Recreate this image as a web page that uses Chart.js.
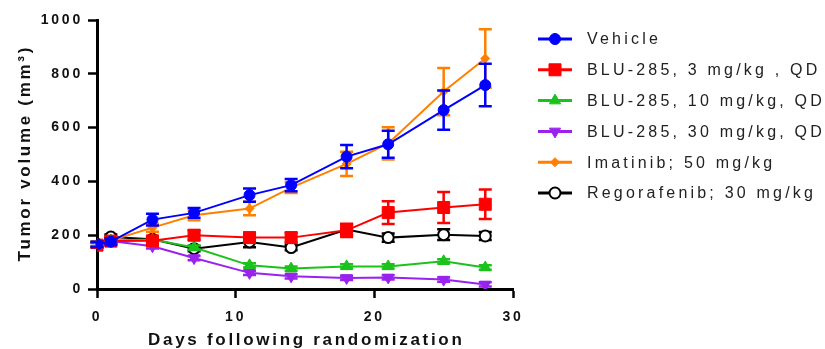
<!DOCTYPE html>
<html>
<head>
<meta charset="utf-8">
<script src="https://cdn.jsdelivr.net/npm/chart.js@4/dist/chart.umd.min.js"></script>
<style>
  html, body { margin: 0; padding: 0; background: #fff; }
  #wrap { width: 825px; height: 349px; }
</style>
</head>
<body>
<div id="wrap"><canvas id="tumorChart" width="825" height="349"></canvas></div>
<script>
// days after randomization
const days = [0, 1, 4, 7, 11, 14, 18, 21, 25, 28];

const seriesNames = [
  'Vehicle',
  'BLU-285, 3 mg/kg , QD',
  'BLU-285, 10 mg/kg, QD',
  'BLU-285, 30 mg/kg, QD',
  'Imatinib; 50 mg/kg',
  'Regorafenib; 30 mg/kg'
];

// mean tumor volume (mm3)
const vehicle     = [166, 176, 258, 283, 349, 386, 492, 538, 665, 758];
const blu3        = [163, 178, 179, 200, 191, 191, 218, 284, 303, 315];
const blu10       = [165, 180, 184, 154, 88, 76, 84, 84, 103, 80];
const blu30       = [165, 178, 159, 115, 60, 47, 41, 43, 35, 17];
const imatinib    = [166, 180, 228, 274, 299, 377, 465, 541, 734, 857];
const regorafenib = [166, 193, 185, 150, 175, 154, 221, 191, 202, 197];

// SEM
const vehicleErr     = [10, 12, 22, 18, 25, 23, 43, 50, 73, 79];
const blu3Err        = [10, 10, 15, 18, 18, 18, 25, 42, 58, 55];
const blu10Err       = [6, 6, 8, 8, 8, 8, 8, 8, 8, 8];
const blu30Err       = [6, 6, 8, 8, 8, 8, 8, 8, 8, 8];
const imatinibErr    = [10, 12, 15, 18, 25, 20, 45, 60, 88, 109];
const regorafenibErr = [10, 10, 10, 10, 20, 10, 20, 15, 20, 15];

const xTicks = [0, 10, 20, 30];
const yTicks = [0, 200, 400, 600, 800, 1000];

const FONT = '"Liberation Sans", Arial, sans-serif';

function toPoints(vals) {
  return days.map((d, i) => ({ x: d, y: vals[i] }));
}

function makeSet(idx, vals, errs, color, style) {
  return Object.assign({
    label: seriesNames[idx],
    data: toPoints(vals),
    errors: errs,
    borderColor: color,
    backgroundColor: color,
    pointBackgroundColor: color,
    pointBorderColor: color,
    pointBorderWidth: 1,
    borderWidth: 2,
    tension: 0
  }, style);
}

const datasets = [
  makeSet(0, vehicle, vehicleErr, '#0000ff', { pointStyle: 'circle', pointRadius: 5.5 }),
  makeSet(1, blu3, blu3Err, '#ff0000', { pointStyle: 'rect', pointRadius: 8.5 }),
  makeSet(2, blu10, blu10Err, '#1cc21c', { pointStyle: 'triangle', pointRadius: 6.5 }),
  makeSet(3, blu30, blu30Err, '#9a22ee', { pointStyle: 'triangle', pointRotation: 180, pointRadius: 6.5 }),
  makeSet(4, imatinib, imatinibErr, '#ff8000', { pointStyle: 'rectRot', pointRadius: 4.5 }),
  makeSet(5, regorafenib, regorafenibErr, '#000000', {
    pointStyle: 'circle', pointRadius: 5.5, pointBackgroundColor: '#ffffff', pointBorderWidth: 2
  })
];

// vertical SEM bars drawn under each dataset's own line
const errorBars = {
  id: 'errorBars',
  beforeDatasetDraw(chart, args) {
    const ds = chart.data.datasets[args.index];
    if (!ds.errors) return;
    const ctx = chart.ctx;
    const yScale = chart.scales.y;
    ctx.save();
    ctx.strokeStyle = ds.borderColor;
    ctx.lineWidth = 2.5;
    args.meta.data.forEach((pt, i) => {
      const v = ds.data[i].y, e = ds.errors[i];
      const top = yScale.getPixelForValue(v + e);
      const bot = yScale.getPixelForValue(Math.max(0, v - e));
      ctx.beginPath();
      ctx.moveTo(pt.x, top); ctx.lineTo(pt.x, bot);
      ctx.moveTo(pt.x - 6.5, top); ctx.lineTo(pt.x + 6.5, top);
      ctx.moveTo(pt.x - 6.5, bot); ctx.lineTo(pt.x + 6.5, bot);
      ctx.stroke();
    });
    ctx.restore();
  }
};

// spaced lettering like the original figure
const spacing = {
  id: 'spacing',
  beforeLayout(chart) { chart.ctx.letterSpacing = '2.8px'; },
  beforeDraw(chart) { chart.ctx.letterSpacing = '2.8px'; }
};

// axis titles + line/marker legend on the right
const extras = {
  id: 'extras',
  afterDraw(chart) {
    const ctx = chart.ctx;
    const area = chart.chartArea;
    ctx.save();
    ctx.fillStyle = '#111';
    ctx.font = 'bold 17px ' + FONT;
    ctx.letterSpacing = '2.7px';
    ctx.textAlign = 'center';
    ctx.textBaseline = 'alphabetic';
    ctx.fillText('Days following randomization', (area.left + area.right) / 2 + 1.3, chart.height - 4);

    ctx.translate(30, (area.top + area.bottom) / 2);
    ctx.rotate(-Math.PI / 2);
    ctx.fillText('Tumor volume (mm\u00b3)', 1.3, 0);
    ctx.restore();

    ctx.save();
    const lx0 = 538, lx1 = 572, tx = 587, ly0 = 39, gap = 30.8;
    chart.data.datasets.forEach((ds, i) => {
      const y = ly0 + i * gap;
      ctx.strokeStyle = ds.borderColor;
      ctx.lineWidth = 3;
      ctx.beginPath();
      ctx.moveTo(lx0, y); ctx.lineTo(lx1, y);
      ctx.stroke();
      ctx.fillStyle = ds.pointBackgroundColor;
      ctx.strokeStyle = ds.pointBorderColor;
      ctx.lineWidth = ds.pointBorderWidth;
      Chart.helpers.drawPoint(ctx, {
        pointStyle: ds.pointStyle,
        radius: ds.pointRadius,
        rotation: ds.pointRotation || 0,
        borderWidth: ds.pointBorderWidth
      }, (lx0 + lx1) / 2, y);

      ctx.fillStyle = '#222';
      ctx.font = '16px ' + FONT;
      ctx.letterSpacing = '3.2px';
      ctx.textAlign = 'left';
      ctx.textBaseline = 'middle';
      ctx.fillText(ds.label, tx, y + 1);
    });
    ctx.restore();
  }
};

const axisGrid = {
  display: true,
  drawOnChartArea: false,
  drawTicks: true,
  tickLength: 9,
  tickWidth: 2.5,
  tickColor: '#000'
};

const tickFont = { family: FONT, size: 14, weight: 'bold' };

new Chart(document.getElementById('tumorChart'), {
  type: 'line',
  data: { datasets: datasets },
  options: {
    responsive: false,
    animation: false,
    devicePixelRatio: 1,
    layout: { padding: { left: 0, top: 20, right: 312, bottom: 0 } },
    plugins: { legend: { display: false }, tooltip: { enabled: false } },
    scales: {
      x: {
        type: 'linear',
        min: xTicks[0],
        max: xTicks[xTicks.length - 1],
        afterBuildTicks: s => { s.ticks = xTicks.map(v => ({ value: v })); },
        afterFit: s => { s.height = 60; },
        grid: axisGrid,
        border: { display: true, color: '#000', width: 3 },
        ticks: { color: '#111', padding: 11, font: tickFont, callback: v => String(v) }
      },
      y: {
        min: yTicks[0],
        max: yTicks[yTicks.length - 1],
        afterBuildTicks: s => { s.ticks = yTicks.map(v => ({ value: v })); },
        afterFit: s => { s.width = 97; },
        grid: axisGrid,
        border: { display: true, color: '#000', width: 3 },
        ticks: { color: '#111', padding: 5, font: tickFont, callback: v => String(v) }
      }
    }
  },
  plugins: [spacing, errorBars, extras]
});
</script>
</body>
</html>
